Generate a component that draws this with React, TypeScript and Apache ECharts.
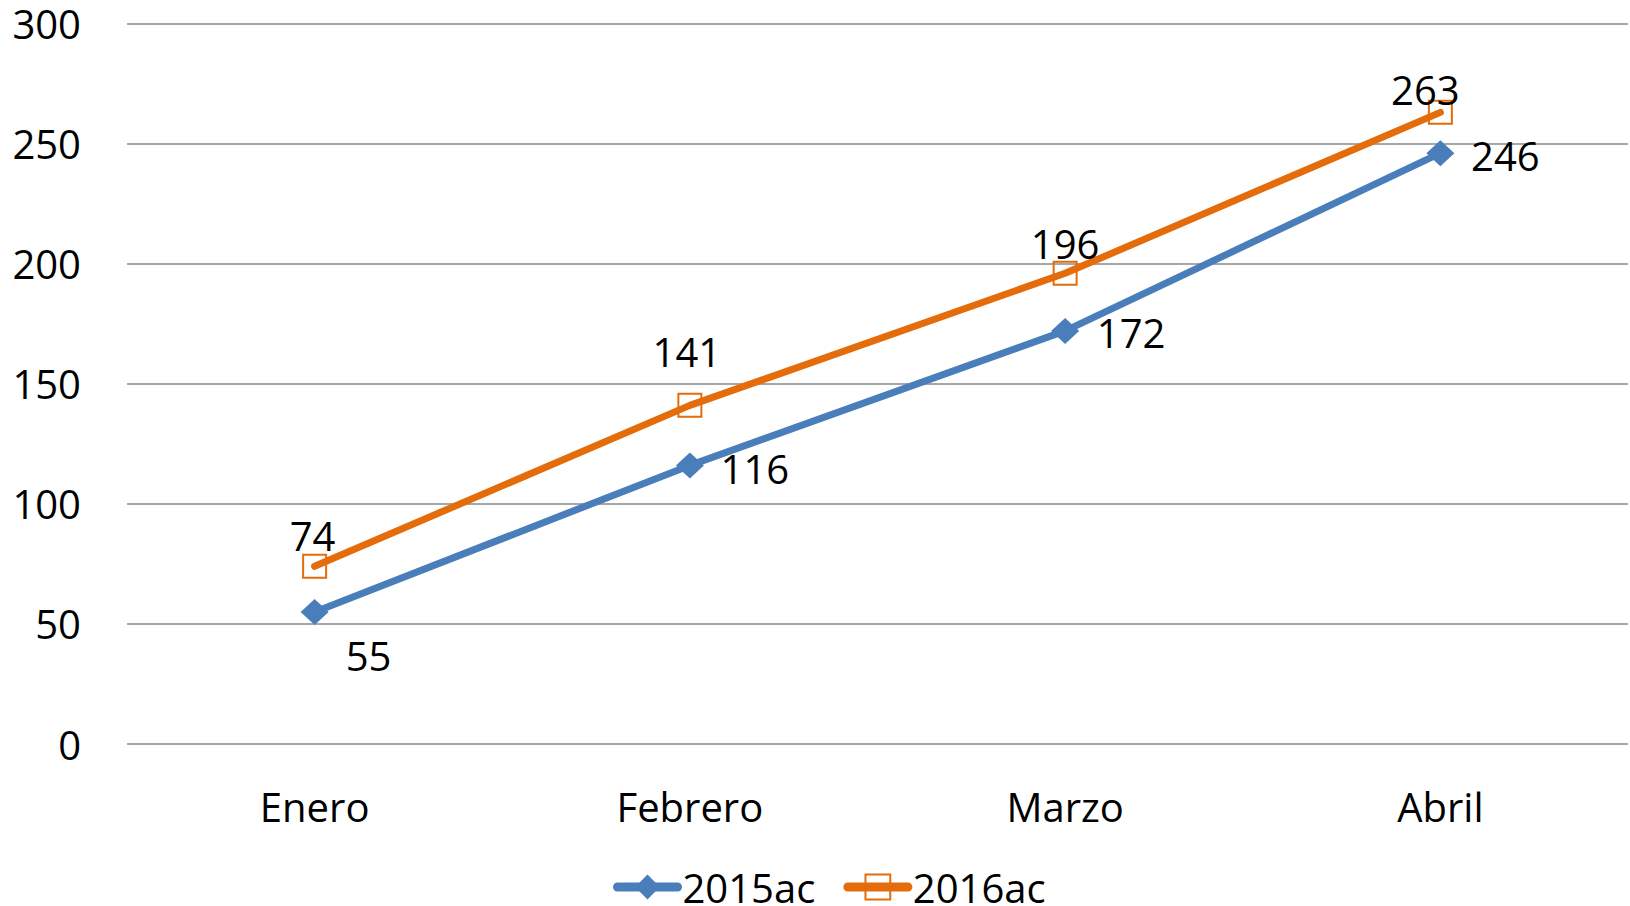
import React, { useEffect, useRef } from "react";
import * as echarts from "echarts";

const categories = ["Enero", "Febrero", "Marzo", "Abril"];
const series2015 = [55, 116, 172, 246];
const series2016 = [74, 141, 196, 263];
const seriesNames = ["2015ac", "2016ac"];
const yTicks = { min: 0, max: 300, interval: 50 };

// label placement offsets (pixels from point centre)
const offsets2015 = [[54, 44], [65, 3], [66, 2], [65, 2]];
const offsets2016 = [[-2, -31], [-3, -54], [0, -30], [-15, -23]];

const BLUE = "#4A7EBB";
const ORANGE = "#E46C0A";
const FONT = "Open Sans";

export default function App() {
  const ref = useRef<HTMLDivElement>(null);
  useEffect(() => {
    if (!ref.current) return;
    const chart = echarts.init(ref.current, null, { renderer: "svg" });
    const labelBase = {
      show: true,
      position: "inside",
      align: "center",
      verticalAlign: "middle",
      fontSize: 40,
      fontFamily: FONT,
      color: "#000",
    };
    chart.setOption({
      animation: false,
      backgroundColor: "#fff",
      textStyle: { fontFamily: FONT },
      grid: { left: 127, right: 2, top: 23.5, bottom: 162, containLabel: false },
      legend: {
        left: 608,
        top: 862,
        itemWidth: 60,
        itemHeight: 31,
        itemGap: 28,
        lineStyle: { width: 9, cap: "round" },
        textStyle: { fontSize: 40, fontFamily: FONT, color: "#000", lineHeight: 40 },
        data: seriesNames,
      },
      xAxis: {
        type: "category",
        data: categories,
        boundaryGap: true,
        axisLine: { show: false },
        axisTick: { show: false },
        axisLabel: { fontSize: 40, fontFamily: FONT, color: "#000", margin: 42, lineHeight: 40 },
      },
      yAxis: {
        type: "value",
        min: yTicks.min,
        max: yTicks.max,
        interval: yTicks.interval,
        axisLine: { show: false },
        axisTick: { show: false },
        axisLabel: { fontSize: 40, fontFamily: FONT, color: "#000", margin: 46 },
        splitLine: { lineStyle: { color: "#8A8A8A", width: 1.5 } },
      },
      series: [
        {
          name: seriesNames[0],
          type: "line",
          data: series2015.map((v, i) => ({
            value: v,
            label: { ...labelBase, offset: offsets2015[i] },
          })),
          symbol: "diamond",
          symbolSize: [28, 26],
          color: BLUE,
          itemStyle: { color: BLUE },
          lineStyle: { color: BLUE, width: 7, cap: "round", join: "round" },
          label: labelBase,
          z: 2,
        },
        {
          name: seriesNames[1],
          type: "line",
          data: series2016.map((v, i) => ({
            value: v,
            label: { ...labelBase, offset: offsets2016[i] },
          })),
          symbol: "rect",
          symbolSize: 23,
          color: ORANGE,
          itemStyle: { color: "rgba(0,0,0,0)", borderColor: ORANGE, borderWidth: 2 },
          lineStyle: { color: ORANGE, width: 7, cap: "round", join: "round" },
          label: labelBase,
          z: 3,
        },
      ],
    });
    return () => chart.dispose();
  }, []);
  return (
    <div
      ref={ref}
      style={{ position: "fixed", left: 0, top: 0, width: 1630, height: 906, background: "#fff" }}
    />
  );
}
